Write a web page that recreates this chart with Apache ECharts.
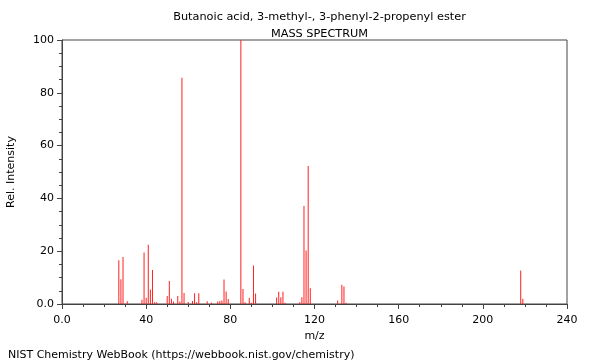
<!DOCTYPE html>
<html><head><meta charset="utf-8">
<script src="https://cdn.jsdelivr.net/npm/echarts@6/dist/echarts.min.js"></script>
<style>html,body{margin:0;padding:0;background:#fff}#c{width:600px;height:360px}</style>
</head><body><div id="c"></div>
<script>
var titleText = "Butanoic acid, 3-methyl-, 3-phenyl-2-propenyl ester";
var subTitle = "MASS SPECTRUM";
var footer = "NIST Chemistry WebBook (https://webbook.nist.gov/chemistry)";
var mz = [27,28,29,31,38,39,40,41,42,43,44,45,50,51,52,53,55,56,57,58,60,62,63,64,65,69,71,74,75,76,77,78,79,85,86,87,89,90,91,92,102,103,104,105,106,113,114,115,116,117,118,131,133,134,135,218,219];
var intensity = [16.6,9.4,17.8,1.0,1.6,19.5,2.4,22.4,5.5,12.9,0.7,0.7,3.0,8.7,2.0,0.9,3.0,0.9,85.7,4.2,0.8,1.1,4.1,0.7,4.1,1.0,0.6,0.9,1.1,1.3,9.3,4.7,1.9,100,5.7,0.7,2.4,0.5,14.6,4.0,2.5,4.6,2.6,4.6,0.5,0.7,2.6,37.1,20.3,52.3,6.0,1.3,7.3,6.6,0.5,12.7,2.0];
var xTicks = [0,40,80,120,160,200,240];
var yTicks = [0,20,40,60,80,100];

var data = mz.map(function(m,i){return [m, intensity[i]];});
var chart = echarts.init(document.getElementById('c'));
var font = 'DejaVu Sans';
var axisCol = '#444';
var barCol = '#ff2020';
function fmt(v){return v===0?'0.0':String(v);}
chart.setOption({
  animation:false,
  tooltip:{show:false},
  textStyle:{fontFamily:font},
  grid:{left:62,right:33,top:40,bottom:56,show:true,borderColor:axisCol,borderWidth:1,backgroundColor:'transparent',outerBoundsMode:'none',containLabel:false},
  title:[
    {text:titleText,left:314.5,top:7,textAlign:'center',textStyle:{fontFamily:font,fontSize:11.3,fontWeight:'normal',color:'#000'}},
    {text:subTitle,left:314.5,top:23.5,textAlign:'center',textStyle:{fontFamily:font,fontSize:11.3,fontWeight:'normal',color:'#000'}},
    {text:footer,left:3,top:345,textStyle:{fontFamily:font,fontSize:11,fontWeight:'normal',color:'#000'}}
  ],
  xAxis:{type:'value',min:xTicks[0],max:xTicks[xTicks.length-1],interval:40,
    name:'m/z',nameLocation:'middle',nameGap:23,nameTextStyle:{fontFamily:font,fontSize:11,color:'#000'},
    axisLine:{show:true,onZero:false,lineStyle:{color:axisCol}},
    axisTick:{show:true,inside:false,length:5,lineStyle:{color:axisCol}},
    minorTick:{show:true,splitNumber:4,length:3,lineStyle:{color:axisCol}},
    splitLine:{show:false},
    axisLabel:{margin:11,fontFamily:font,fontSize:11,color:'#000',formatter:fmt}
  },
  yAxis:{type:'value',min:yTicks[0],max:yTicks[yTicks.length-1],interval:20,
    name:'Rel. Intensity',nameLocation:'middle',nameGap:45,nameTextStyle:{fontFamily:font,fontSize:11,color:'#000'},
    axisLine:{show:true,onZero:false,lineStyle:{color:axisCol}},
    axisTick:{show:true,inside:false,length:5,lineStyle:{color:axisCol}},
    minorTick:{show:true,splitNumber:4,length:3,lineStyle:{color:axisCol}},
    splitLine:{show:false},
    axisLabel:{margin:8,fontFamily:font,fontSize:11,color:'#000',formatter:fmt}
  },
  series:[{type:'custom',data:data,silent:true,clip:false,
    emphasis:{disabled:true},
    encode:{x:0,y:1},
    itemStyle:{color:barCol},
    renderItem:function(params,api){
      var base=api.coord([api.value(0),0]);
      var top=api.coord([api.value(0),api.value(1)]);
      return {type:'rect',shape:{x:base[0]-0.5,y:top[1],width:1,height:base[1]-top[1]},
        style:{fill:barCol,stroke:null},emphasisDisabled:true};
    }}]
});
</script></body></html>
